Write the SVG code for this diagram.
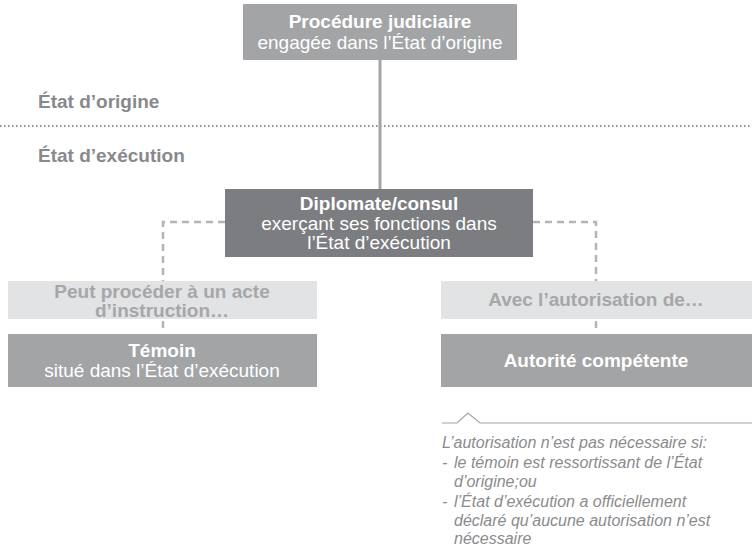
<svg xmlns="http://www.w3.org/2000/svg" width="752" height="546" viewBox="0 0 752 546">
<style>
text{font-family:"Liberation Sans",Arial,sans-serif}
.b{font-weight:bold}
.w{fill:#ffffff;font-size:19px}
.mid{fill:#a3a4a6}
.dark{fill:#7c7d80}
.light{fill:#e2e3e4}
.lt{fill:#a6a7a9;font-size:19px;font-weight:bold}
.lbl{fill:#88898b;font-size:19px;font-weight:bold}
.dash{stroke:#b3b4b6;stroke-width:2.5;fill:none;stroke-dasharray:7 5}
.note{fill:#8a8b8d;font-size:16px;font-style:italic}
</style>
<rect width="752" height="546" fill="#ffffff"/>
<g id="regions">
<text class="lbl" x="38" y="108">État d’origine</text>
<line x1="0" y1="126" x2="752" y2="126" stroke="#8e8f91" stroke-width="2" stroke-dasharray="1.5 2.5"/>
<text class="lbl" x="38" y="162">État d’exécution</text>
</g>
<g id="connectors">
<line x1="380" y1="60" x2="380" y2="190" stroke="#a3a4a6" stroke-width="3"/>
<polyline class="dash" points="225,222 163,222 163,281"/>
<polyline class="dash" points="533,222 596,222 596,281"/>
<line class="dash" x1="163" y1="321" x2="163" y2="330"/>
<line class="dash" x1="596" y1="321" x2="596" y2="330"/>
</g>
<g id="procedure">
<rect class="mid" x="243" y="4" width="274" height="56"/>
<text class="w b" x="380" y="28" text-anchor="middle">Procédure judiciaire</text>
<text class="w" x="380" y="49" text-anchor="middle">engagée dans l’État d’origine</text>
</g>
<g id="diplomate">
<rect class="dark" x="225" y="189" width="308" height="68"/>
<text class="w b" x="379" y="210" text-anchor="middle">Diplomate/consul</text>
<text class="w" x="379" y="230" text-anchor="middle">exerçant ses fonctions dans</text>
<text class="w" x="379" y="249" text-anchor="middle">l’État d’exécution</text>
</g>
<g id="acte">
<rect class="light" x="8" y="281" width="309" height="38"/>
<text class="lt" x="162" y="298" text-anchor="middle">Peut procéder à un acte</text>
<text class="lt" x="162" y="317" text-anchor="middle">d’instruction…</text>
</g>
<g id="temoin">
<rect class="mid" x="8" y="334" width="309" height="53"/>
<text class="w b" x="162" y="357" text-anchor="middle">Témoin</text>
<text class="w" x="162" y="377" text-anchor="middle">situé dans l’État d’exécution</text>
</g>
<g id="autorisation">
<rect class="light" x="441" y="281" width="311" height="38"/>
<text class="lt" x="596" y="306" text-anchor="middle">Avec l’autorisation de…</text>
</g>
<g id="autorite">
<rect class="mid" x="441" y="334" width="311" height="53"/>
<text class="w b" x="596" y="367" text-anchor="middle">Autorité compétente</text>
</g>
<g id="note">
<polyline points="442,423 457,423 468,413 480,423 752,423" fill="none" stroke="#a3a4a6" stroke-width="1.2"/>
<text class="note" x="442" y="448">L’autorisation n’est pas nécessaire si:</text>
<text class="note" x="442" y="467.5">-</text>
<text class="note" x="454" y="467.5">le témoin est ressortissant de l’État</text>
<text class="note" x="454" y="487">d’origine;ou</text>
<text class="note" x="442" y="506.5">-</text>
<text class="note" x="454" y="506.5">l’État d’exécution a officiellement</text>
<text class="note" x="454" y="525.5">déclaré qu’aucune autorisation n’est</text>
<text class="note" x="454" y="543.5">nécessaire</text>
</g>
</svg>
